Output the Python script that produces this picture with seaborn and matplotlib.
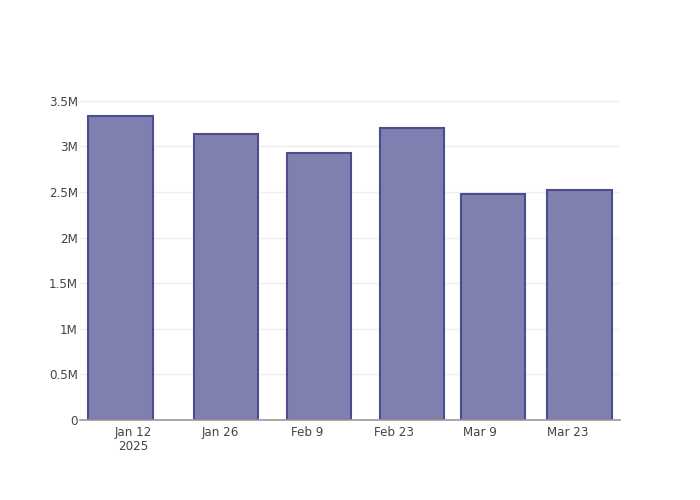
import matplotlib
matplotlib.use("Agg")
import matplotlib.pyplot as plt
import matplotlib.dates as mdates
import seaborn as sns
import pandas as pd
import numpy as np

dates = ["2025-01-10", "2025-01-27", "2025-02-11", "2025-02-26", "2025-03-11", "2025-03-25"]
values = [3335000, 3137000, 2928000, 3203000, 2476000, 2520000]
tick_dates = ["2025-01-12", "2025-01-26", "2025-02-09", "2025-02-23", "2025-03-09", "2025-03-23"]
tick_labels = ["Jan 12\n2025", "Jan 26", "Feb 9", "Feb 23", "Mar 9", "Mar 23"]
y_ticks = [0, 500000, 1000000, 1500000, 2000000, 2500000, 3000000, 3500000]
y_labels = ["0", "0.5M", "1M", "1.5M", "2M", "2.5M", "3M", "3.5M"]

sns.set_theme(style="white")
plt.rcParams['font.family'] = ['DejaVu Sans']

xnum = mdates.date2num(pd.to_datetime(dates))
df = pd.DataFrame({"x": xnum, "y": values})

fig = plt.figure(figsize=(7, 5), dpi=100)
ax = fig.add_axes([80/700, 80/500, 540/700, 320/500])

sns.barplot(data=df, x="x", y="y", native_scale=True, width=0.8,
            color="#7f7fb0", saturation=1, edgecolor="#4c4c8e", linewidth=1.5, ax=ax)

x0 = mdates.date2num(pd.Timestamp("2025-01-12"))
ax.set_xlim(x0 - 8.55, x0 + 78.5)
ax.set_ylim(0, 3510000)

ax.set_xticks(mdates.date2num(pd.to_datetime(tick_dates)))
ax.set_xticklabels(tick_labels, fontsize=8.6, color="#444444", linespacing=1.15)
ax.set_yticks(y_ticks)
ax.set_yticklabels(y_labels, fontsize=8.6, color="#444444")
ax.tick_params(axis="x", length=0, pad=4)
ax.tick_params(axis="y", length=0, pad=1.5)

ax.set_axisbelow(True)
ax.yaxis.grid(True, color="#eeeeee", linewidth=1)
ax.xaxis.grid(False)
for s in ["top", "right", "left"]:
    ax.spines[s].set_visible(False)
ax.spines["bottom"].set_color("#999999")
ax.spines["bottom"].set_linewidth(1.2)
ax.set_xlabel("")
ax.set_ylabel("")

fig.savefig("out.png", dpi=100)
